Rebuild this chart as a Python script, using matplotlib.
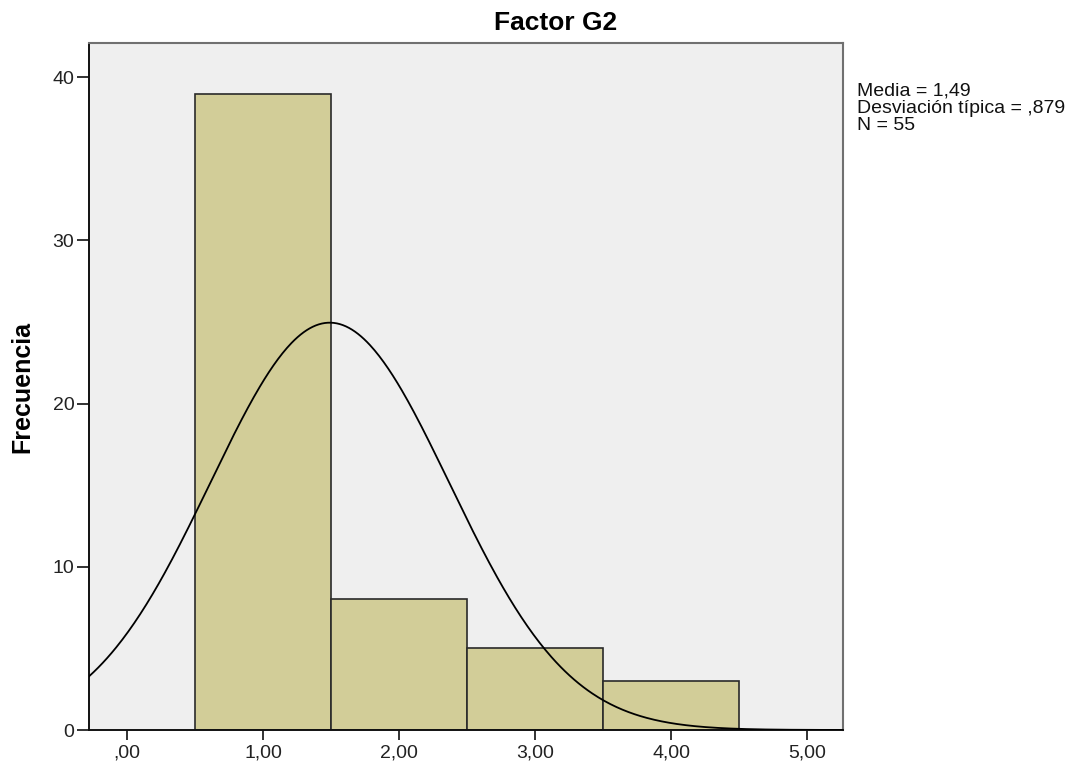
import matplotlib.pyplot as plt
import numpy as np

plt.rcParams['font.family'] = ['Liberation Sans', 'DejaVu Sans']

# Histogram data
bin_edges = [0.5, 1.5, 2.5, 3.5, 4.5]
counts = [39, 8, 5, 3]
media = 1.49
desv = 0.879
n = 55
x_ticks = [0, 1, 2, 3, 4, 5]
x_labels = [",00", "1,00", "2,00", "3,00", "4,00", "5,00"]
y_ticks = [0, 10, 20, 30, 40]

fig = plt.figure(figsize=(10.7, 7.64), dpi=100)
ax = fig.add_axes([0.0832, 0.0445, 0.7048, 0.8992])
ax.set_facecolor('#EFEFEF')

widths = np.diff(bin_edges)
ax.bar(bin_edges[:-1], counts, width=widths, align='edge',
       color='#D2CD98', edgecolor='#2a2a2a', linewidth=1.2, zorder=2)

# Normal curve scaled to the histogram
xlim = (-0.28, 5.265)
xs = np.linspace(xlim[0], xlim[1], 500)
bw = widths[0]
ys = n * bw / (desv * np.sqrt(2 * np.pi)) * np.exp(-0.5 * ((xs - media) / desv) ** 2)
ax.plot(xs, ys, color='black', linewidth=1.3, zorder=3)

ax.set_xlim(*xlim)
ax.set_ylim(0, 42.1)
ax.set_xticks(x_ticks)
ax.set_xticklabels(x_labels)
ax.set_yticks(y_ticks)
ax.tick_params(axis='both', labelsize=14, width=1.3, color='#222222',
               labelcolor='#222222', direction='out')
ax.tick_params(axis='x', length=7.5, pad=3)
ax.tick_params(axis='y', length=8.5, pad=2)

for side in ['top', 'right']:
    ax.spines[side].set_color('#707070')
    ax.spines[side].set_linewidth(1.5)
for side in ['left', 'bottom']:
    ax.spines[side].set_color('#111111')
    ax.spines[side].set_linewidth(1.4)

# Title and axis label
fig.text(556 / 1070, 1 - 23 / 764, "Factor G2", fontsize=19, fontweight='bold',
         ha='center', va='center')
fig.text(22 / 1070, 0.494, "Frecuencia", fontsize=18, fontweight='bold',
         rotation=90, ha='center', va='center')

fig.text(0.801, 0.892, "Media = 1,49\nDesviación típica = ,879\nN = 55",
         fontsize=14, va='top', ha='left', linespacing=1.02, color='#111111')

plt.savefig("out.png", dpi=100)
plt.close()
